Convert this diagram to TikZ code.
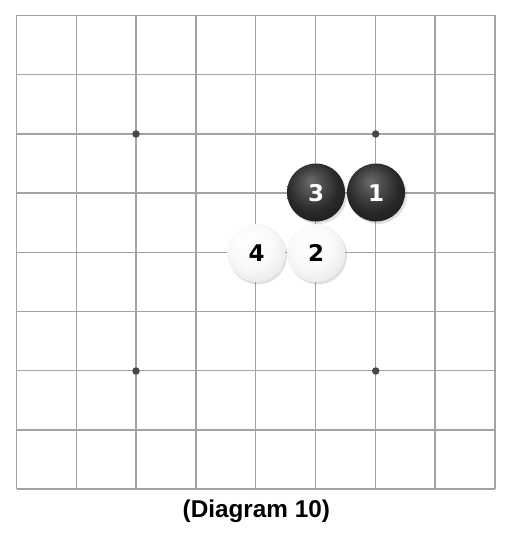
\documentclass[tikz,border=0pt]{standalone}
\usepackage{fontspec}
\setmainfont{Liberation Sans}
\newfontfamily\stonefont{DejaVu Sans}
\pgfdeclareradialshading{blackstone}{\pgfqpoint{-5bp}{10bp}}{color(0bp)=(black!58); color(8bp)=(black!68); color(22bp)=(black!84); color(38bp)=(black!91); color(50bp)=(black!95)}
\pgfdeclareradialshading{whitestone}{\pgfqpoint{-6bp}{10bp}}{color(0bp)=(white); color(18bp)=(white!98!black); color(34bp)=(white!90!black); color(50bp)=(white!80!black)}
\tikzset{
  gridline/.style={draw=black!36, line width=1.4pt},
  starpt/.style={circle, fill=black!72, inner sep=0pt, minimum size=7.5pt},
  bstone/.style={circle, minimum size=58pt, inner sep=0pt, shading=blackstone},
  wstone/.style={circle, minimum size=58pt, inner sep=0pt, shading=whitestone},
  shadowstone/.style={circle, minimum size=58pt, inner sep=0pt, fill=black, fill opacity=0.12},
  bnum/.style={text=white, font=\stonefont\fontsize{23}{23}\selectfont\bfseries, inner sep=0pt, anchor=base},
  wnum/.style={text=black, font=\stonefont\fontsize{23}{23}\selectfont\bfseries, inner sep=0pt, anchor=base},
  caption/.style={font=\fontsize{24.3}{24.3}\selectfont\bfseries, inner sep=0pt, anchor=base}
}
\begin{document}
\begin{tikzpicture}[x=1pt, y=-1pt]
\useasboundingbox[fill=white] (0,0) rectangle (514,540);
% grid
\foreach \i in {0,...,8} {
  \draw[gridline] ({16.5+\i*59.8},15.5) -- ({16.5+\i*59.8},489);
  \draw[gridline] (16.5,{15.5+\i*59.2}) -- (495,{15.5+\i*59.2});
}
% star points
\node[starpt] (s1) at (136,134) {};
\node[starpt] (s2) at (375.7,134) {};
\node[starpt] (s3) at (136,371) {};
\node[starpt] (s4) at (375.7,371) {};
% shadows
\node[shadowstone] (sh4) at (258,255.5) {};
\node[shadowstone] (sh2) at (318,255.5) {};
\node[shadowstone] (sh3) at (318,195) {};
\node[shadowstone] (sh1) at (378,195) {};
% stones
\node[bstone] (st3) at (316,192.5) {};
\node[bstone] (st1) at (376,192.5) {};
\node[wstone] (st4) at (256.5,253) {};
\node[wstone] (st2) at (316,253) {};
% numbers
\node[bnum] (n3) at (316,201.5) {3};
\node[bnum] (n1) at (376,201.5) {1};
\node[wnum] (n4) at (256.5,261) {4};
\node[wnum] (n2) at (316,261) {2};
% caption
\node[caption] (cap) at (256.3,517) {(Diagram 10)};
\end{tikzpicture}
\end{document}
